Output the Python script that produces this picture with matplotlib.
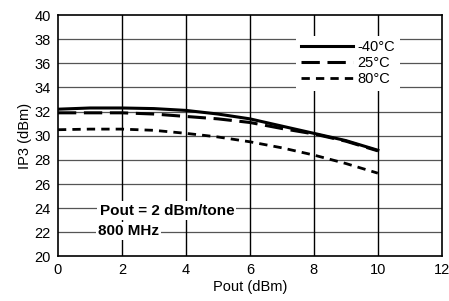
import numpy as np
import matplotlib
matplotlib.use('Agg')
from matplotlib import pyplot as plt

plt.rcParams['font.family'] = ['Liberation Sans', 'DejaVu Sans']

pout = [0, 1, 2, 3, 4, 5, 6, 7, 8, 9, 10]
ip3_m40 = [32.2, 32.3, 32.3, 32.25, 32.1, 31.8, 31.4, 30.8, 30.2, 29.6, 28.8]
ip3_25 = [31.9, 31.9, 31.9, 31.8, 31.6, 31.4, 31.1, 30.6, 30.15, 29.55, 28.75]
ip3_80 = [30.5, 30.55, 30.55, 30.45, 30.2, 29.9, 29.5, 29.0, 28.4, 27.7, 26.9]
labels = ['-40°C', '25°C', '80°C']

fig = plt.figure(figsize=(4.49, 3.01), dpi=100)
ax = fig.add_axes([0.129, 0.148, 0.855, 0.802])

ax.plot(pout, ip3_m40, color='black', lw=2.2, ls='-', label=labels[0])
ax.plot(pout, ip3_25, color='black', lw=2.2, ls=(0, (6, 2.5)), label=labels[1])
ax.plot(pout, ip3_80, color='black', lw=2.0, ls=(0, (3, 2.2)), label=labels[2])

ax.set_xlim(0, 12)
ax.set_ylim(20, 40)
ax.set_xticks(np.arange(0, 13, 2))
ax.set_yticks(np.arange(20, 41, 2))
ax.tick_params(length=0, labelsize=10.5, pad=5)
for y in np.arange(22, 40, 2):
    ax.axhline(y, color='#555555', lw=0.9, zorder=0)
for x in np.arange(2, 12, 2):
    ax.axvline(x, color='black', lw=1.0, zorder=0)
for s in ax.spines.values():
    s.set_linewidth(1.2)

ax.set_xlabel('Pout (dBm)', fontsize=10.5, labelpad=2)
ax.set_ylabel('IP3 (dBm)', fontsize=10.5, labelpad=2)

leg = ax.legend(loc='upper right', bbox_to_anchor=(0.89, 0.915), frameon=True,
                fontsize=10.5, handlelength=3.6, handletextpad=0.3,
                labelspacing=0.15, borderpad=0.3, borderaxespad=0)
leg.get_frame().set_edgecolor('none')
leg.get_frame().set_facecolor('white')
leg.get_frame().set_alpha(1)

ax.text(1.3, 23.8, 'Pout = 2 dBm/tone', fontsize=11, fontweight='bold',
        va='center', ha='left', bbox=dict(fc='white', ec='none', pad=1.5))
ax.text(1.25, 22.1, '800 MHz', fontsize=11, fontweight='bold',
        va='center', ha='left', bbox=dict(fc='white', ec='none', pad=1.5))

fig.savefig('out.png', dpi=100)
